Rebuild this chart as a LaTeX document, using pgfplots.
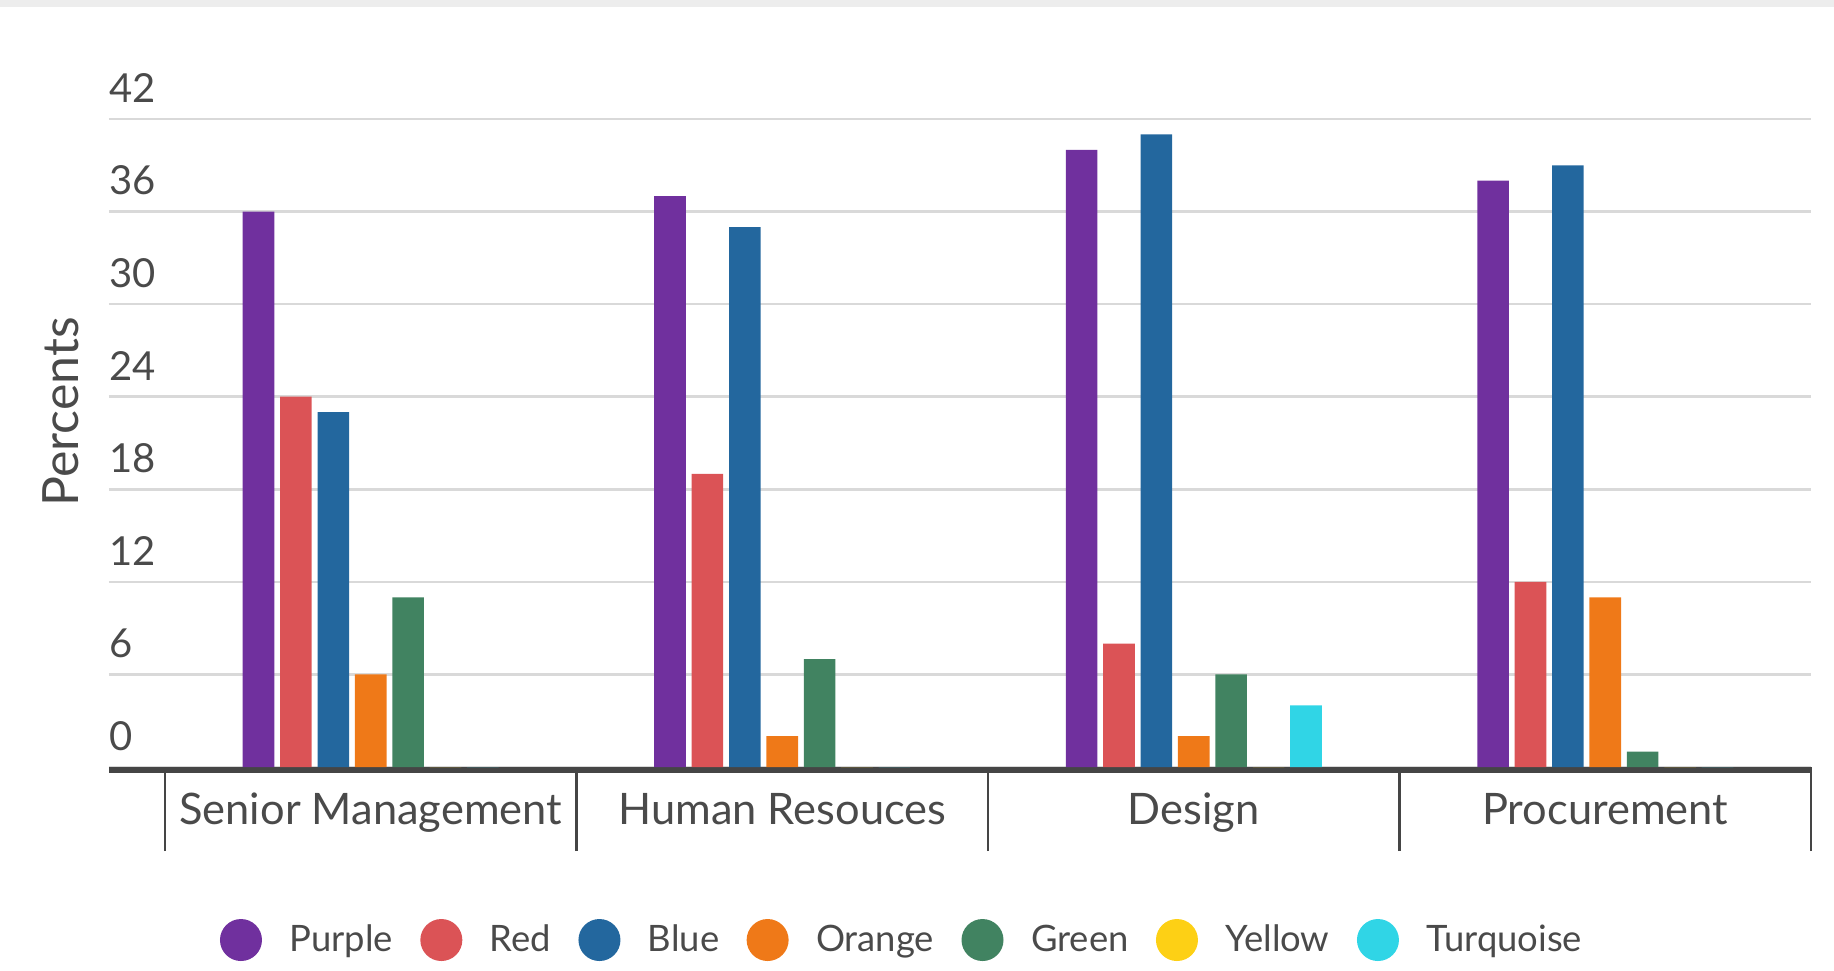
\documentclass[border=0pt]{standalone}
\usepackage{fontspec}
\setmainfont{Lato}
\usepackage{pgfplots}
\usepackage{pgfplotstable}
\pgfplotsset{compat=1.18}

\definecolor{cPurple}{HTML}{70309E}
\definecolor{cRed}{HTML}{DB5356}
\definecolor{cBlue}{HTML}{23679E}
\definecolor{cOrange}{HTML}{EF7918}
\definecolor{cGreen}{HTML}{418361}
\definecolor{cYellow}{HTML}{FDD015}
\definecolor{cTurq}{HTML}{30D5E6}
\definecolor{txt}{HTML}{4A4A4A}
\definecolor{gridc}{HTML}{D9D9D9}
\definecolor{axisc}{HTML}{454545}

% share of staff (percent) per department
\pgfplotstableread{
x purple red blue orange green yellow turquoise
0 36 24 23 6  11 0 0
1 37 19 35 2  7  0 0
2 40 8  41 2  6  0 4
3 38 12 39 11 1  0 0
}\datatable

\begin{document}
\begin{tikzpicture}
\begin{axis}[
  at={(0,0)}, anchor=south west,
  scale only axis, width=851pt, height=324pt,
  ybar=2.9pt, bar width=15.8pt,
  xmin=-0.636, xmax=3.5, ymin=0, ymax=42,
  axis x line*=bottom, axis y line*=left,
  y axis line style={draw=none},
  x axis line style={line width=3pt, color=axisc, yshift=-1.5pt},
  ytick={0,6,...,42},
  ymajorgrids, grid style={gridc, line width=1.35pt},
  major tick length=0pt,
  yticklabel style={anchor=south west, inner sep=0pt, yshift=8pt,
    font=\fontsize{20}{24}\selectfont, text=txt},
  /pgf/number format/assume math mode=true,
  xtick={0,1,2,3},
  xticklabels={Senior Management, Human Resouces, Design, Procurement},
  xticklabel style={anchor=base, inner sep=0pt, yshift=-28.8pt,
    font=\fontsize{21.7}{26}\selectfont, text=txt},
  extra x ticks={-0.5,0.5,1.5,2.5,3.5},
  extra x tick labels={},
  extra x tick style={major tick length=42pt, tick align=outside,
    tick style={draw=axisc, line width=1.3pt}},
  ylabel={Percents},
  ylabel style={at={(rel axis cs:-0.0282,0.548)}, anchor=center,
    font=\fontsize{25}{30}\selectfont, text=txt},
  legend image code/.code={\fill[#1] (10.5pt,0pt) circle (10.5pt);},
  legend style={at={(0.4665,-0.267)}, anchor=center, draw=none, fill=none,
    legend columns=-1, font=\fontsize{18.2}{22}\selectfont, text=txt,
    /tikz/every even column/.append style={column sep=11.7pt},
    /tikz/every odd column/.append style={column sep=11.75pt}},
  clip=false,
]
\addplot[fill=cPurple, draw=none] table[x=x, y=purple]{\datatable};
\addplot[fill=cRed, draw=none] table[x=x, y=red]{\datatable};
\addplot[fill=cBlue, draw=none] table[x=x, y=blue]{\datatable};
\addplot[fill=cOrange, draw=none] table[x=x, y=orange]{\datatable};
\addplot[fill=cGreen, draw=none] table[x=x, y=green]{\datatable};
\addplot[fill=cYellow, draw=none] table[x=x, y=yellow]{\datatable};
\addplot[fill=cTurq, draw=none] table[x=x, y=turquoise]{\datatable};
\legend{Purple, Red, Blue, Orange, Green, Yellow, Turquoise}
\end{axis}
% thin grey strip along the top edge
\fill[fill=black!7] (-54.5pt,380pt) rectangle (862.5pt,383.5pt);
\pgfresetboundingbox
\path[use as bounding box] (-54.5pt,-101.5pt) rectangle (862.5pt,383.5pt);
\end{tikzpicture}
\end{document}
